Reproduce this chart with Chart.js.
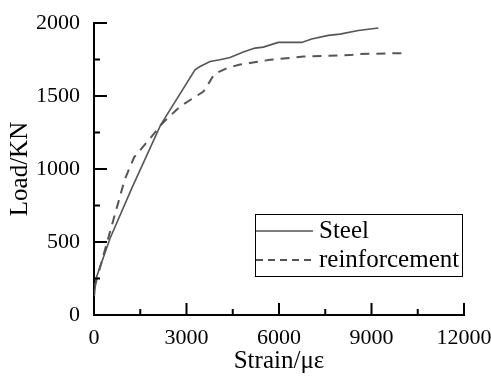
<!DOCTYPE html>
<html>
<head>
<meta charset="utf-8">
<script src="https://cdn.jsdelivr.net/npm/chart.js@4"></script>
<style>
  html, body { margin: 0; padding: 0; background: #fff; }
  #wrap { width: 491px; height: 377px; }
</style>
</head>
<body>
<div id="wrap"><canvas id="vis" width="491" height="377"></canvas></div>
<script>
// data
const steelStrain = [10, 65, 519, 1223, 2163, 3276, 3438, 3762, 4086, 4411, 4843, 5221, 5492, 5977, 6735, 7059, 7600, 7978, 8573, 9222];
const steelLoad   = [130, 250, 524, 867, 1302, 1680, 1702, 1736, 1748, 1764, 1801, 1828, 1835, 1867, 1867, 1890, 1915, 1924, 1949, 1966];
const reinfStrain = [30, 400, 1000, 1300, 1900, 2250, 2800, 3550, 3700, 3900, 4300, 4700, 5100, 5700, 6800, 8300, 8600, 10160];
const reinfLoad   = [200, 480, 930, 1080, 1230, 1320, 1430, 1530, 1580, 1650, 1690, 1714, 1727, 1748, 1770, 1780, 1788, 1794];
const seriesNames = ['Steel', 'reinforcement'];
const xTicks = [0, 3000, 6000, 9000, 12000];
const yTicks = [0, 500, 1000, 1500, 2000];

const FONT = '"Liberation Serif", "Times New Roman", serif';

function pts(xs, ys) {
  return xs.map((x, i) => ({x: x, y: ys[i]}));
}

// ticks pointing inward + minor ticks, and the boxed legend
const extras = {
  id: 'extras',
  afterDraw(chart) {
    const c = chart.ctx;
    const xs = chart.scales.x, ys = chart.scales.y;
    const ca = chart.chartArea;
    c.save();
    c.strokeStyle = '#000';
    c.lineWidth = 2;
    c.beginPath();
    for (let i = 0; i < xTicks.length; i++) {
      const px = xs.getPixelForValue(xTicks[i]);
      c.moveTo(px, ca.bottom); c.lineTo(px, ca.bottom - 12);
      if (i < xTicks.length - 1) {
        const mx = xs.getPixelForValue((xTicks[i] + xTicks[i + 1]) / 2);
        c.moveTo(mx, ca.bottom); c.lineTo(mx, ca.bottom - 6);
      }
    }
    for (let i = 0; i < yTicks.length; i++) {
      const py = ys.getPixelForValue(yTicks[i]);
      c.moveTo(ca.left, py); c.lineTo(ca.left + 13, py);
      if (i < yTicks.length - 1) {
        const my = ys.getPixelForValue((yTicks[i] + yTicks[i + 1]) / 2);
        c.moveTo(ca.left, my); c.lineTo(ca.left + 6, my);
      }
    }
    c.stroke();

    // legend box
    const bx = 255, by = 214, bw = 207, bh = 62;
    c.lineWidth = 1;
    c.strokeRect(bx + 0.5, by + 0.5, bw, bh);
    const rows = [231, 260];
    chart.data.datasets.forEach((ds, i) => {
      c.strokeStyle = ds.borderColor;
      c.lineWidth = ds.borderWidth;
      c.setLineDash(i === 0 ? [] : [7, 5]);
      c.beginPath();
      c.moveTo(bx + 1, rows[i]); c.lineTo(bx + 58, rows[i]);
      c.stroke();
      c.setLineDash([]);
      c.fillStyle = '#000';
      c.font = '25px ' + FONT;
      c.textBaseline = 'middle';
      c.fillText(ds.label, bx + 64, rows[i]);
    });
    c.restore();
  }
};

new Chart(document.getElementById('vis'), {
  type: 'scatter',
  data: {
    datasets: [{
      label: seriesNames[0],
      data: pts(steelStrain, steelLoad),
      showLine: true,
      borderColor: '#555',
      borderWidth: 1.6,
      pointRadius: 0,
      tension: 0
    }, {
      label: seriesNames[1],
      data: pts(reinfStrain, reinfLoad),
      showLine: true,
      borderColor: '#555',
      borderWidth: 2,
      borderDash: [9, 7],
      pointRadius: 0,
      tension: 0
    }]
  },
  options: {
    responsive: false,
    animation: false,
    layout: { padding: { top: 23, right: 27, left: 0, bottom: 0 } },
    plugins: { legend: { display: false }, tooltip: { enabled: false } },
    scales: {
      x: {
        type: 'linear',
        min: 0, max: 12000,
        afterBuildTicks: (s) => { s.ticks = xTicks.map(v => ({value: v})); },
        afterFit: (s) => { s.height = 62; s.paddingRight = 0; s.paddingLeft = 0; },
        grid: { display: false, drawTicks: false },
        border: { display: true, color: '#000', width: 2 },
        ticks: { color: '#000', padding: 10, maxRotation: 0, callback: (v) => String(v), font: { family: FONT, size: 22 } },
        title: { display: true, text: 'Strain/με', color: '#000', padding: 1, font: { family: FONT, size: 25 } }
      },
      y: {
        type: 'linear',
        min: 0, max: 2000,
        afterBuildTicks: (s) => { s.ticks = yTicks.map(v => ({value: v})); },
        afterFit: (s) => { s.width = 94; s.paddingTop = 0; s.paddingBottom = 0; },
        grid: { display: false, drawTicks: false },
        border: { display: true, color: '#000', width: 2 },
        ticks: { color: '#000', padding: 14, callback: (v) => String(v), font: { family: FONT, size: 22 } },
        title: { display: true, text: 'Load/KN', color: '#000', padding: 5, font: { family: FONT, size: 25 } }
      }
    }
  },
  plugins: [extras]
});
</script>
</body>
</html>
